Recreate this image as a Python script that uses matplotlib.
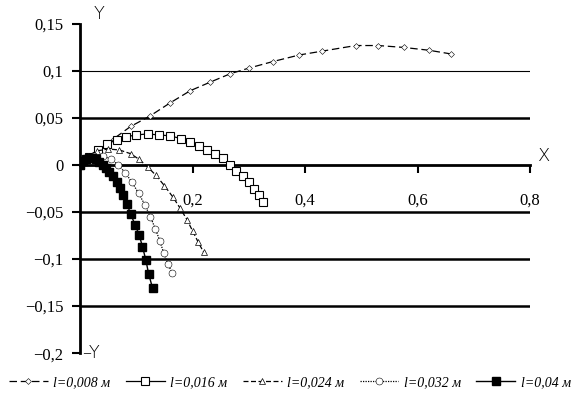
import matplotlib
matplotlib.use("Agg")
import matplotlib.pyplot as plt
from matplotlib.ticker import FixedLocator, FuncFormatter

# ── Data ──────────────────────────────────────────────────────────────────────
labels = ["l=0,008 м", "l=0,016 м", "l=0,024 м", "l=0,032 м", "l=0,04 м"]

x1 = [0, 0.03, 0.06, 0.09, 0.124, 0.16, 0.196, 0.231, 0.267, 0.30, 0.343,
      0.39, 0.43, 0.49, 0.53, 0.575, 0.62, 0.66]
y1 = [0, 0.013, 0.028, 0.041, 0.052, 0.066, 0.079, 0.088, 0.097, 0.103, 0.110,
      0.117, 0.121, 0.127, 0.127, 0.125, 0.122, 0.118]

x2 = [0, 0.016, 0.032, 0.048, 0.065, 0.082, 0.10, 0.12, 0.14, 0.16, 0.18,
      0.196, 0.212, 0.226, 0.24, 0.254, 0.266, 0.278, 0.29, 0.30, 0.31, 0.318, 0.325]
y2 = [0, 0.009, 0.016, 0.022, 0.027, 0.030, 0.032, 0.033, 0.032, 0.031, 0.028,
      0.024, 0.020, 0.016, 0.012, 0.007, 0.0, -0.006, -0.012, -0.018, -0.025, -0.032, -0.039]

x3 = [0, 0.015, 0.03, 0.05, 0.07, 0.09, 0.105, 0.12, 0.135, 0.15, 0.165,
      0.178, 0.19, 0.20, 0.21, 0.22]
y3 = [0, 0.010, 0.015, 0.017, 0.016, 0.012, 0.006, -0.002, -0.011, -0.022, -0.034,
      -0.046, -0.058, -0.070, -0.082, -0.093]

x4 = [0, 0.012, 0.025, 0.04, 0.055, 0.068, 0.08, 0.092, 0.104, 0.115, 0.125,
      0.134, 0.142, 0.149, 0.156, 0.164]
y4 = [0, 0.007, 0.010, 0.010, 0.006, 0.0, -0.008, -0.018, -0.030, -0.042, -0.055,
      -0.068, -0.081, -0.094, -0.105, -0.115]

x5 = [0, 0.005, 0.01, 0.016, 0.022, 0.028, 0.034, 0.04, 0.046, 0.052, 0.059,
      0.065, 0.071, 0.077, 0.083, 0.09, 0.098, 0.105, 0.111, 0.117, 0.122, 0.129]
y5 = [0, 0.004, 0.006, 0.007, 0.007, 0.006, 0.003, 0.0, -0.003, -0.007, -0.012,
      -0.018, -0.024, -0.032, -0.041, -0.052, -0.064, -0.074, -0.087, -0.101, -0.116, -0.131]

yticks = [-0.2, -0.15, -0.1, -0.05, 0, 0.05, 0.1, 0.15]
xticks = [0.2, 0.4, 0.6, 0.8]

plt.rcParams["font.family"] = ["Liberation Serif", "DejaVu Serif"]

fig = plt.figure(figsize=(5.8, 4.05), dpi=100)
ax = fig.add_axes([0.138, 0.128, 0.776, 0.813])
ax.set_xlim(0, 0.8)
ax.set_ylim(-0.2, 0.15)

# grid lines
ax.axhline(0.1, color="black", lw=0.8, zorder=1)
for g in [0.05, -0.05, -0.1, -0.15]:
    ax.axhline(g, color="black", lw=1.8, zorder=1)

ax.plot(x1, y1, color="black", lw=0.9, ls=(0, (6, 3)), marker="D", ms=3,
        mfc="white", mec="black", mew=0.4, label=labels[0], zorder=3)
ax.plot(x2, y2, color="black", lw=0.9, marker="s", ms=6, mfc="white",
        mec="black", mew=0.8, label=labels[1], zorder=3)
ax.plot(x3, y3, color="black", lw=0.9, ls=(0, (4, 2)), marker="^", ms=5,
        mfc="white", mec="black", mew=0.5, label=labels[2], zorder=3)
ax.plot(x4, y4, color="black", lw=0.9, ls=(0, (1, 1)), marker="o", ms=5,
        mfc="white", mec="black", mew=0.4, label=labels[3], zorder=3)
ax.plot(x5, y5, color="black", lw=1.0, marker="s", ms=6, mfc="black",
        mec="black", label=labels[4], zorder=4)

# axes: Y at x=0, X at y=0
for s in ["top", "right"]:
    ax.spines[s].set_visible(False)
ax.spines["left"].set_linewidth(2)
ax.spines["bottom"].set_position(("data", 0))
ax.spines["bottom"].set_linewidth(2)

ax.yaxis.set_major_locator(FixedLocator(yticks))
ax.yaxis.set_major_formatter(FuncFormatter(
    lambda v, p: "0" if abs(v) < 1e-9 else f"{v:g}".replace(".", ",").replace("-", "\u2212")))
ax.xaxis.set_major_locator(FixedLocator(xticks))
ax.xaxis.set_major_formatter(FuncFormatter(lambda v, p: f"{v:g}".replace(".", ",")))
ax.tick_params(axis="y", direction="out", length=6, width=1.5, labelsize=12, pad=6)
ax.tick_params(axis="x", direction="out", length=6, width=1.5, labelsize=12, pad=14)

ax.text(0.025, 0.16, "Y", fontsize=13, ha="left", va="center",
        family="DejaVu Sans", fontweight="light")
ax.text(0.003, -0.2, "\u2013Y", fontsize=13, ha="left", va="center",
        family="DejaVu Sans", fontweight="light")
ax.text(0.825, 0.01, "X", fontsize=13, ha="center", va="center",
        family="DejaVu Sans", fontweight="light")

fig.legend(loc="lower center", bbox_to_anchor=(0.5, 0.015), ncol=5, frameon=False,
           prop={"style": "italic", "size": 10}, handlelength=2.8,
           handletextpad=0.4, columnspacing=1.1, borderaxespad=0.3)

fig.savefig("out.png", dpi=100)
